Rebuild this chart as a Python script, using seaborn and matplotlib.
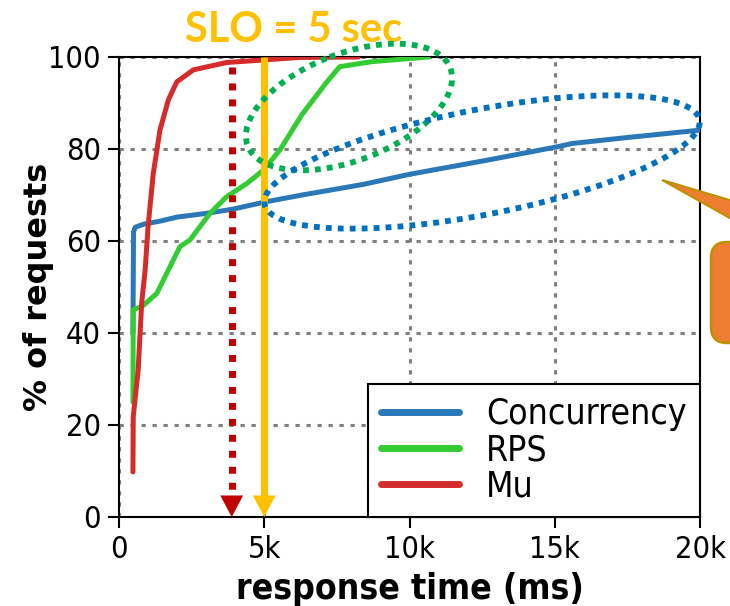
import matplotlib
matplotlib.use("Agg")
import matplotlib.pyplot as plt
import seaborn as sns
import pandas as pd
from matplotlib.patches import Ellipse, FancyBboxPatch, Polygon
from matplotlib.transforms import Affine2D, blended_transform_factory

# ---------------- data ----------------
series_names = ["Concurrency", "RPS", "Mu"]

conc_ms = [480, 500, 560, 870, 1400, 2000, 3000, 3900, 5040, 6300, 8400,
           10000, 12700, 15100, 15600, 17500, 20000]
conc_pct = [40, 62, 63, 63.7, 64.3, 65.2, 66, 66.9, 68.5, 70, 72.3,
            74.5, 77.6, 80.5, 81.2, 82.5, 84.1]

rps_ms = [480, 490, 840, 1300, 1700, 2100, 2440, 3130, 3700, 4400, 4970,
          5540, 6300, 7120, 7600, 8720, 10650]
rps_pct = [25, 45, 46, 48.6, 53.7, 58.8, 60.2, 66, 69.6, 72.5, 75.4,
           79.8, 87.5, 94.3, 97.9, 99, 100]

mu_ms = [480, 490, 660, 780, 900, 1000, 1180, 1410, 1700, 1990, 2560,
         3700, 4850, 6200, 8240]
mu_pct = [9.8, 21.8, 32, 46.5, 53.7, 63.1, 74.7, 84.1, 90.7, 94.6, 97.2,
          98.8, 99.3, 99.9, 100]

x_ticks = [0, 5000, 10000, 15000, 20000]
x_tick_labels = ["0", "5k", "10k", "15k", "20k"]
y_ticks = [0, 20, 40, 60, 80, 100]

slo_ms = 5000
mu_p99_ms = 3880
mu_p99_top = 97.8
slo_text = "SLO = 5 sec"

colors = {"Concurrency": "#2a78b8", "RPS": "#33cc33", "Mu": "#d62b2b"}

# ---------------- figure ----------------
sns.set_style("white")
plt.rcParams["font.family"] = ["DejaVu Sans"]
plt.rcParams["font.stretch"] = "condensed"
for k in ["text.color", "axes.labelcolor", "xtick.color", "ytick.color"]:
    plt.rcParams[k] = "black"

W, H = 730, 606
fig = plt.figure(figsize=(W / 100, H / 100), dpi=100)
ax = fig.add_axes([119 / W, 89 / H, 581 / W, 460 / H])

df = pd.concat([
    pd.DataFrame({"ms": conc_ms, "pct": conc_pct, "series": "Concurrency"}),
    pd.DataFrame({"ms": rps_ms, "pct": rps_pct, "series": "RPS"}),
    pd.DataFrame({"ms": mu_ms, "pct": mu_pct, "series": "Mu"}),
], ignore_index=True)

sns.lineplot(data=df, x="ms", y="pct", hue="series", hue_order=series_names,
             palette=colors, sort=False, estimator=None, lw=3.6, ax=ax,
             solid_joinstyle="round", zorder=3)

ax.set_xlim(0, 20000)
ax.set_ylim(0, 100)
ax.set_xticks(x_ticks)
ax.set_xticklabels(x_tick_labels)
ax.set_yticks(y_ticks)
ax.tick_params(axis="both", direction="out", length=8, width=1.5,
               labelsize=22, color="black", labelcolor="black", pad=5,
               bottom=True, left=True)
ax.grid(True, ls=(0, (1.4, 2.2)), color="#808080", lw=2.2)
for s in ax.spines.values():
    s.set_color("black")
    s.set_linewidth(1.5)
ax.set_xlabel("response time (ms)", fontsize=25.5, fontweight="bold",
              labelpad=6)
ax.set_ylabel("% of requests", fontsize=23, fontweight="bold",
              fontstretch="normal")
ax.yaxis.set_label_coords((54 - 119) / 581, 0.5)

handles, labels = ax.get_legend_handles_labels()
leg = ax.legend(handles, labels, loc="lower right", borderaxespad=0,
                fontsize=25.5, handlelength=2.2, handletextpad=0.75,
                labelspacing=0.06, borderpad=0.38, fancybox=False,
                framealpha=1, edgecolor="black")
leg.get_frame().set_linewidth(1.5)
for h in leg.get_lines():
    h.set_linewidth(5)
leg.set_zorder(5)

# ---------------- SLO annotations ----------------
ax.plot([mu_p99_ms, mu_p99_ms], [mu_p99_top, 4], color="#c00000", lw=5,
        ls=(0, (1, 1.3)), dash_capstyle="butt", zorder=4)
ax.annotate("", xy=(mu_p99_ms, 0), xytext=(mu_p99_ms, 6),
            arrowprops=dict(arrowstyle="-|>,head_length=15.5,head_width=8.2",
                            mutation_scale=1, lw=0, color="#c00000",
                            shrinkA=0, shrinkB=0), zorder=4)
ax.plot([slo_ms, slo_ms], [100, 4], color="#ffc000", lw=5,
        solid_capstyle="butt", zorder=6)
ax.annotate("", xy=(slo_ms, 0), xytext=(slo_ms, 6),
            arrowprops=dict(arrowstyle="-|>,head_length=15.5,head_width=8.2",
                            mutation_scale=1, lw=0, color="#ffc000",
                            shrinkA=0, shrinkB=0), zorder=6)

bt = blended_transform_factory(ax.transData, fig.transFigure)
fig.text(6000, (H - 42) / H, slo_text, transform=bt, ha="center",
         va="baseline", fontsize=30, fontweight="bold", color="#ffc000",
         family="Lato")

# ---------------- overlay shapes (pixel coordinates, top-left origin) ------
px = Affine2D().scale(1 / W, -1 / H).translate(0, 1) + fig.transFigure

green_ell = Ellipse((349, 107), 217, 107, angle=-21, transform=px,
                    fill=False, edgecolor="#00b050", lw=4.2,
                    ls=(0, (1, 1.05)), clip_on=False, zorder=7)
blue_ell = Ellipse((482, 162), 443, 105, angle=-11, transform=px,
                   fill=False, edgecolor="#0070c0", lw=4.2,
                   ls=(0, (1, 1.05)), clip_on=False, zorder=7)
fig.add_artist(green_ell)
fig.add_artist(blue_ell)

wedge = Polygon([(662, 180), (760, 209), (760, 235)], closed=True,
                transform=px, facecolor="#ed7d31", edgecolor="#bf9000",
                lw=1.5, clip_on=False, zorder=8)
box = FancyBboxPatch((711, 242), 80, 101,
                     boxstyle="round,pad=0,rounding_size=16", transform=px,
                     facecolor="#ed7d31", edgecolor="#bf9000", lw=1.8,
                     clip_on=False, zorder=8)
fig.add_artist(wedge)
fig.add_artist(box)

fig.savefig("out.png", dpi=100)
